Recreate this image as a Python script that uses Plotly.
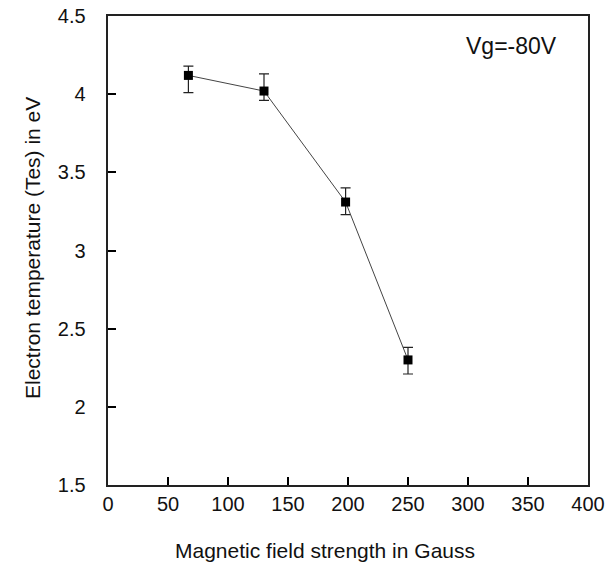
import plotly.graph_objects as go

field = [67, 130, 198, 250]
temp = [4.12, 4.02, 3.31, 2.30]
err_up = [0.06, 0.11, 0.09, 0.08]
err_down = [0.11, 0.06, 0.08, 0.09]
x_range = [0, 400]
y_range = [1.5, 4.5]

fig = go.Figure()
fig.add_trace(go.Scatter(
    x=field, y=temp, mode="lines+markers",
    line=dict(color="#444444", width=1),
    marker=dict(symbol="square", size=9, color="black"),
    error_y=dict(type="data", symmetric=False, array=err_up, arrayminus=err_down,
                 color="#222222", thickness=1.2, width=5),
    showlegend=False,
))

font_family = "Liberation Sans, Arial, sans-serif"
L, R, T, B = 108, 17, 16, 87
W, H = 605, 572
fig.update_layout(
    width=W, height=H,
    margin=dict(l=L, r=R, t=T, b=B),
    plot_bgcolor="white", paper_bgcolor="white",
    font=dict(family=font_family, color="#111111"),
    xaxis=dict(
        range=x_range, dtick=50,
        showgrid=False, zeroline=False, showline=True, linecolor="#222222", linewidth=1.5,
        mirror=True, ticks="inside", ticklen=8, tickwidth=1.5, tickcolor="black",
        tickfont=dict(size=20), automargin=False,
    ),
    yaxis=dict(
        range=y_range, dtick=0.5,
        showgrid=False, zeroline=False, showline=True, linecolor="#222222", linewidth=1.5,
        mirror=True, ticks="inside", ticklen=8, tickwidth=1.5, tickcolor="black",
        tickfont=dict(size=20), automargin=False, ticksuffix="   ",
    ),
    annotations=[
        dict(text="Vg=-80V", x=0.84, y=0.935, xref="paper", yref="paper",
             showarrow=False, font=dict(size=23), xanchor="center", yanchor="middle"),
        dict(text="Magnetic field strength in Gauss", x=(325 - L) / (W - L - R), y=-(550 - (H - B)) / (H - T - B),
             xref="paper", yref="paper", showarrow=False, font=dict(size=21),
             xanchor="center", yanchor="middle"),
        dict(text="Electron temperature (Tes) in eV", x=-(L - 32) / (W - L - R), y=(H - B - 248) / (H - T - B),
             xref="paper", yref="paper", showarrow=False, font=dict(size=21), textangle=-90,
             xanchor="center", yanchor="middle"),
    ],
)

fig.write_html("out.html", config={"displayModeBar": False},
               post_script="document.body.style.margin='0';document.body.style.overflow='hidden';")
